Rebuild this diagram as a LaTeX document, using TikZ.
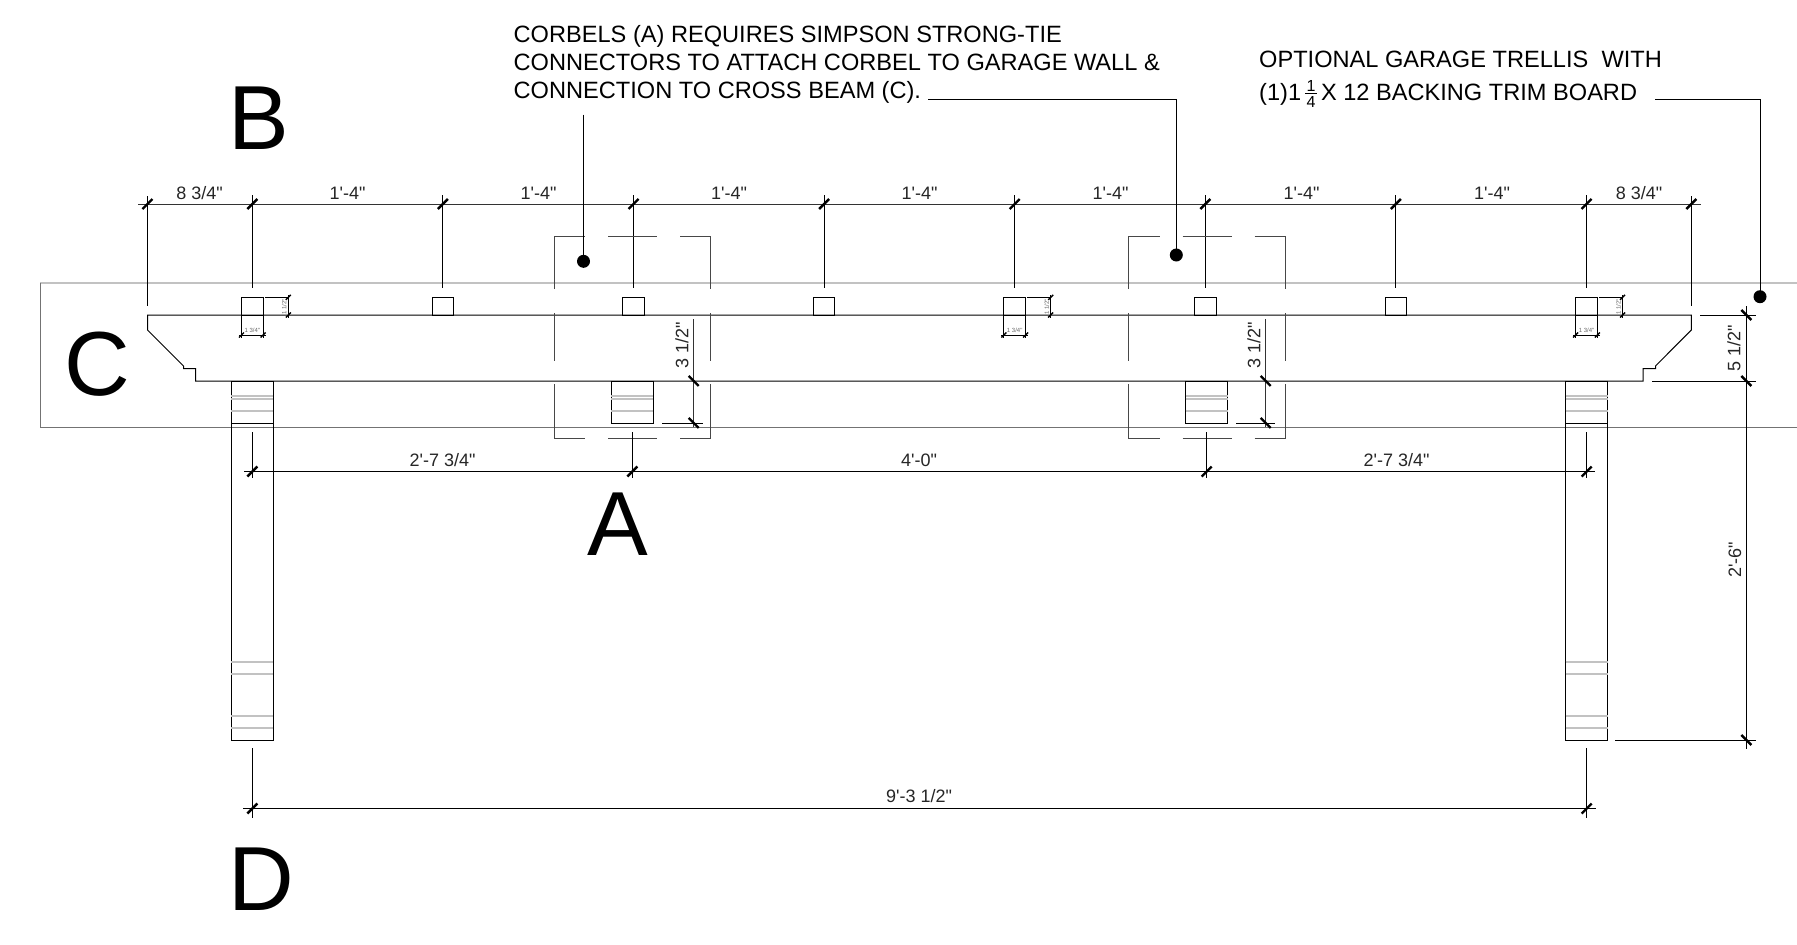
\documentclass[tikz,border=0pt]{standalone}
\usepackage{fontspec}
\newfontfamily\arl{Liberation Sans}
\setmainfont{Liberation Sans}
\tikzset{
  ink/.style={draw=black,line width=1pt},
  hair/.style={draw=black!55,line width=0.8pt},
  pale/.style={draw=black!24,line width=1.2pt},
  dimline/.style={draw=black!80,line width=1pt},
  dashedge/.style={draw=black!72,line width=1pt},
  dimtext/.style={font=\arl\fontsize{18}{18}\selectfont,text=black!85,inner sep=0pt},
  tinytext/.style={font=\arl\fontsize{6}{6}\selectfont,text=black!60,inner sep=0pt},
  notetext/.style={font=\arl\fontsize{23.6}{28}\selectfont,text=black,inner sep=0pt,align=left,anchor=north west},
  bigtext/.style={font=\arl\fontsize{91}{91}\selectfont,text=black,inner sep=0pt},
  dotmark/.style={fill=black,draw=none},
  tickf/.pic={\draw[black,line width=2.4pt] (-5,5) -- (5,-5);},
  tickb/.pic={\draw[black,line width=2.4pt] (-5,-5) -- (5,5);},
  ticksf/.pic={\draw[black,line width=1.4pt] (-2.5,2.5) -- (2.5,-2.5);}
}
\newcommand{\qfrac}{\raisebox{-7pt}{\vbox{\hsize=12pt\offinterlineskip\arl\fontsize{16}{16}\selectfont
  \hbox to 12pt{\hss 1\hss}\vskip2pt\hrule height 0.7pt\vskip2pt\hbox to 12pt{\hss 4\hss}}}}
\begin{document}
\begin{tikzpicture}[x=1pt,y=-1pt]
\useasboundingbox[fill=white] (0,0) rectangle (1797,945);
% frame
\draw[pale] (1797,283) -- (40,283);
\draw[hair] (40,283) -- (40,427) -- (1797,427);
% top dimension chain
\draw[dimline] (138,204) -- (1701,204);
\draw[ink] (147.5,196) -- (147.5,306);
\draw[ink] (1691.3,196) -- (1691.3,306);
\pic at (147.5,204) {tickf};
\pic at (1691.3,204) {tickf};
\foreach \x in {252.3,442.9,633.5,824.1,1014.7,1205.3,1395.9,1586.5}{
  \draw[ink] (\x,195) -- (\x,288);
  \pic at (\x,204) {tickf};
  \draw[ink] (\x-10.8,315) rectangle (\x+10.8,297.3);
}
\foreach \x/\t in {199.5/{8 3/4"},347.5/{1'-4"},538.5/{1'-4"},729/{1'-4"},919.5/{1'-4"},1110.5/{1'-4"},1301.5/{1'-4"},1492/{1'-4"},1639/{8 3/4"}}{
  \node[dimtext] at (\x,193.5) {\t};
}
% small dimensions
\foreach \x in {252.3,1014.7,1586.5}{
  \draw[ink,line width=0.9pt] (\x+12.5,297.3) -- (\x+36,297.3) (\x+36,295) -- (\x+36,318);
  \draw[ink,line width=0.9pt] (\x-10.8,315) -- (\x-10.8,338) (\x+10.8,315) -- (\x+10.8,338) (\x-13.5,335) -- (\x+13.5,335);
  \pic at (\x+36,297.3) {ticksf};
  \pic at (\x+36,315) {ticksf};
  \pic at (\x-10.8,335) {ticksf};
  \pic at (\x+10.8,335) {ticksf};
  \node[tinytext] at (\x,330.7) {1 3/4"};
  \node[tinytext,rotate=90] at (\x+32,307) {1 1/2"};
}
% beam
\draw[ink] (1691.3,315) -- (147.5,315) -- (147.5,330) -- (183.5,366) -- (183.5,368.5) -- (195.7,368.5) -- (195.7,381) -- (1643,381) -- (1643,368.5) -- (1655.5,368.5) -- (1655.5,366) -- (1691.3,330) -- cycle;
% corbel dashed boxes
\foreach \a/\b in {554/710.3,1128.7/1285}{
  \draw[dashedge] (\a,289) -- (\a,236) -- (\a+31,236);
  \draw[dashedge] (\a+54,236) -- (\a+103,236);
  \draw[dashedge] (\a+126,236) -- (\b,236) -- (\b,289);
  \draw[dashedge] (\a,313) -- (\a,361);
  \draw[dashedge] (\b,313) -- (\b,361);
  \draw[dashedge] (\a,384) -- (\a,438) -- (\a+31,438);
  \draw[dashedge] (\a+54,438) -- (\a+103,438);
  \draw[dashedge] (\a+126,438) -- (\b,438) -- (\b,384);
}
% posts
\foreach \x in {231.3,1565.5}{
  \draw[ink] (\x,381) rectangle (\x+42,740);
  \draw[ink] (\x,423.3) -- (\x+42,423.3);
  \foreach \y in {396,399,411,662,674,716,728}{
    \draw[pale] (\x,\y) -- (\x+42,\y);
  }
}
% corbel blocks
\foreach \x in {611.3,1185.7}{
  \draw[ink] (\x,381) rectangle (\x+42,423);
  \foreach \y in {396,399,411}{
    \draw[pale] (\x,\y) -- (\x+42,\y);
  }
}
% corbel height dimensions
\foreach \x/\o in {693.7/662,1265.7/1236}{
  \draw[dimline] (\x,319) -- (\x,427);
  \draw[ink] (\o,423) -- (\x+9,423);
  \pic at (\x,381) {tickb};
  \pic at (\x,423) {tickb};
}
\node[dimtext,rotate=90] at (682,345.5) {3 1/2"};
\node[dimtext,rotate=90] at (1254,345.5) {3 1/2"};
% lower dimension chain
\draw[ink] (244,471.5) -- (1595,471.5);
\foreach \x in {252.3,632.3,1206.7,1586.7}{
  \draw[ink] (\x,432) -- (\x,478);
  \pic at (\x,471.5) {tickf};
}
\node[dimtext] at (442.5,460.5) {2'-7 3/4"};
\node[dimtext] at (919,460.5) {4'-0"};
\node[dimtext] at (1396.5,460.5) {2'-7 3/4"};
% overall width
\draw[ink] (243,808.5) -- (1596,808.5);
\draw[ink] (252.3,748) -- (252.3,818);
\draw[ink] (1586.7,748) -- (1586.7,818);
\pic at (252.3,808.5) {tickf};
\pic at (1586.7,808.5) {tickf};
\node[dimtext] at (919,796.5) {9'-3 1/2"};
% right dimensions
\draw[ink] (1746.3,306) -- (1746.3,749);
\draw[ink] (1700,315) -- (1756,315);
\draw[ink] (1652,381) -- (1756,381);
\draw[ink] (1615,740) -- (1756,740);
\pic at (1746.3,315) {tickb};
\pic at (1746.3,381) {tickb};
\pic at (1746.3,740) {tickb};
\node[dimtext,rotate=90] at (1734,348) {5 1/2"};
\node[dimtext,rotate=90] at (1735,560) {2'-6"};
% big letters
\node[bigtext] at (259,118) {B};
\node[bigtext] at (97,364) {C};
\node[bigtext] at (618,524) {A};
\node[bigtext] at (261,879) {D};
% notes
\node[notetext] at (513.5,25.5) {CORBELS (A) REQUIRES SIMPSON STRONG-TIE\\CONNECTORS TO ATTACH CORBEL TO GARAGE WALL \&\\CONNECTION TO CROSS BEAM (C).};
\node[notetext] at (1259,50.5) {OPTIONAL GARAGE TRELLIS\ \ WITH\\[5pt](1)1\,\qfrac\,X 12 BACKING TRIM BOARD};
% leaders
\coordinate (dotone) at (583.5,261.3);
\coordinate (dottwo) at (1176.3,255);
\coordinate (dotthree) at (1760,296.7);
\draw[ink] (583.5,114.5) -- (dotone);
\draw[ink] (928,99.7) -- (1176.3,99.7) -- (dottwo);
\draw[ink] (1655,99.7) -- (1760,99.7) -- (dotthree);
\fill[dotmark] (dotone) circle (6.5);
\fill[dotmark] (dottwo) circle (6.5);
\fill[dotmark] (dotthree) circle (6.5);
\end{tikzpicture}
\end{document}
